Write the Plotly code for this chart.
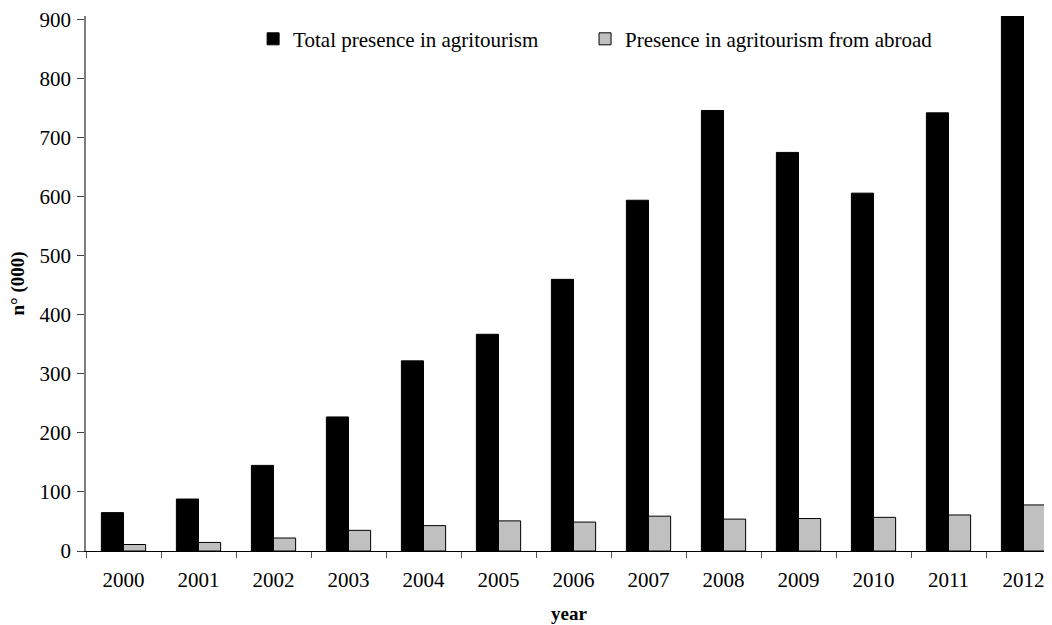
import plotly.graph_objects as go

years = ["2000", "2001", "2002", "2003", "2004", "2005", "2006",
         "2007", "2008", "2009", "2010", "2011", "2012"]
total = [65, 88, 145, 227, 322, 367, 460, 594, 746, 675, 606, 742, 906]
abroad = [11, 14.5, 22, 35, 43, 51, 49, 59, 54, 55, 57, 61, 78]
yticks = [0, 100, 200, 300, 400, 500, 600, 700, 800, 900]

FONT = "Liberation Serif, Times New Roman, serif"

fig = go.Figure()
fig.add_trace(go.Bar(
    x=years, y=total, name="Total presence in agritourism",
    marker=dict(color="#000000", line=dict(color="#000000", width=1)),
    legend="legend",
))
fig.add_trace(go.Bar(
    x=years, y=abroad, name="Presence in agritourism from abroad",
    marker=dict(color="#c0c0c0", line=dict(color="#000000", width=1)),
    legend="legend2",
))

leg_common = dict(
    orientation="h", y=0.995, xanchor="left", yanchor="top",
    font=dict(family=FONT, size=21, color="black"),
    bgcolor="rgba(0,0,0,0)",
)

fig.update_layout(
    width=1044, height=617,
    margin=dict(l=78, r=0, t=8, b=74, autoexpand=False),
    paper_bgcolor="white", plot_bgcolor="white",
    font=dict(family=FONT, size=21, color="black"),
    barmode="group", bargap=0.41, bargroupgap=0,
    showlegend=True,
    legend=dict(x=0.173, **leg_common),
    legend2=dict(x=0.5166, **leg_common),
    xaxis=dict(
        type="category", range=[-0.5, 12.38], automargin=False,
        showline=True, linecolor="#000000", linewidth=1,
        ticks="outside", tickson="boundaries", ticklen=6,
        tickcolor="#555555", tickwidth=1,
        ticklabelstandoff=10, ticklabeloverflow="allow",
        showgrid=False, zeroline=False,
        title=dict(text="<b>year</b>", font=dict(family=FONT, size=19), standoff=15),
    ),
    yaxis=dict(
        range=[0, 906], tickvals=yticks, automargin=False,
        showline=True, linecolor="#808080", linewidth=1.5,
        ticks="outside", ticklen=7, tickcolor="#444444", tickwidth=1,
        ticklabelstandoff=2, ticklabeloverflow="allow",
        showgrid=False, zeroline=False,
    ),
    annotations=[dict(
        text="<b>n° (000)</b>", textangle=-90,
        xref="paper", yref="paper", x=0, y=0.5, xshift=-69,
        xanchor="center", yanchor="middle", showarrow=False,
        font=dict(family=FONT, size=19, color="black"),
    )],
)

fig.write_html("out.html")
